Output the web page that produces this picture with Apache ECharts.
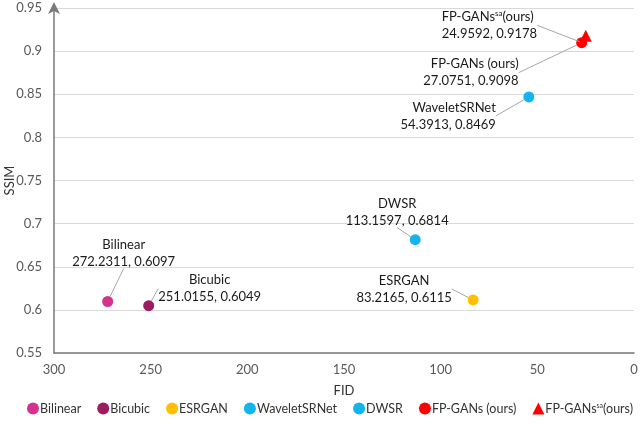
<!DOCTYPE html>
<html>
<head>
<meta charset="utf-8">
<script src="https://cdn.jsdelivr.net/npm/echarts@6/dist/echarts.min.js"></script>
<style>
  html, body { margin: 0; padding: 0; background: #fff; }
  #main { width: 640px; height: 427px; }
</style>
</head>
<body>
<div id="main"></div>
<script>
// data
var methods = ["Bilinear", "Bicubic", "ESRGAN", "WaveletSRNet", "DWSR", "FP-GANs (ours)", "FP-GANs sa (ours)"];
var fidValues = [272.2311, 251.0155, 83.2165, 54.3913, 113.1597, 27.0751, 24.9592];
var ssimValues = [0.6097, 0.6049, 0.6115, 0.8469, 0.6814, 0.9098, 0.9178];
var xTicks = [0, 50, 100, 150, 200, 250, 300];
var yTicks = [0.55, 0.6, 0.65, 0.7, 0.75, 0.8, 0.85, 0.9, 0.95];

// styling
var colors = ["#d5318f", "#9c1c5f", "#ffc000", "#12b5ee", "#12b5ee", "#ff0000", "#ff0000"];
var symbols = ["circle", "circle", "circle", "circle", "circle", "circle", "triangle"];
// label offset from the point (dx, dy) and text alignment
var labelMove = [
  [16, -48, "center"],
  [61, -17, "center"],
  [-69, -11, "center"],
  [-33, 19, "right"],
  [-18, -27, "center"],
  [-63, 30, "right"],
  [-144, -10, "left"]
];

function labelText(i) {
  var v = fidValues[i].toFixed(4) + ", " + ssimValues[i].toFixed(4);
  if (i === 6) return "{a|FP-GANs}{s|sa}{a|(ours)}\n{a|" + v + "}";
  return "{a|" + methods[i] + "}\n{a|" + v + "}";
}

var rich = {
  a: { fontSize: 13, lineHeight: 17, color: "#1a1a1a", fontFamily: "Lato" },
  s: { fontSize: 8, lineHeight: 17, color: "#1a1a1a", fontFamily: "Lato", padding: [0, 0, 7, 0] }
};

var series = methods.map(function (name, i) {
  return {
    name: name,
    type: "scatter",
    symbol: symbols[i],
    symbolSize: i === 6 ? 12 : 11,
    itemStyle: { color: colors[i], opacity: 1 },
    data: [[fidValues[i], ssimValues[i]]],
    label: {
      show: true,
      position: "inside",
      formatter: function () { return labelText(i); },
      align: labelMove[i][2],
      rich: rich
    },
    labelLayout: { dx: labelMove[i][0], dy: labelMove[i][1] },
    labelLine: { show: true, lineStyle: { color: "#a6a6a6", width: 1 } },
    z: i === 6 ? 3 : 2
  };
});

var chart = echarts.init(document.getElementById("main"));
chart.setOption({
  animation: false,
  textStyle: { fontFamily: "Lato" },
  grid: { left: 54, right: 6, top: 8, bottom: 74, outerBoundsMode: "none", containLabel: false },
  legend: {
    bottom: 7,
    left: 22,
    itemWidth: 12,
    itemHeight: 12,
    itemGap: 16,
    data: methods.map(function (m, i) { return { name: m, icon: symbols[i] }; }),
    formatter: function (name) {
      if (name === "FP-GANs sa (ours)") return "{a|FP-GANs}{s|sa}{a|(ours)}";
      return "{a|" + name + "}";
    },
    textStyle: {
      padding: [0, 0, 0, -4],
      rich: {
        a: { fontSize: 12.5, color: "#333", fontFamily: "Lato" },
        s: { fontSize: 7, color: "#333", fontFamily: "Lato", padding: [0, 0, 6, 0] }
      }
    }
  },
  xAxis: {
    type: "value",
    inverse: true,
    min: xTicks[0],
    max: xTicks[xTicks.length - 1],
    interval: 50,
    name: "FID",
    nameLocation: "middle",
    nameGap: 31,
    nameMoveOverlap: false,
    nameTextStyle: { fontSize: 13, color: "#333" },
    axisLine: { onZero: false, lineStyle: { color: "#7a7a7a", width: 1.5 } },
    axisTick: { show: false },
    axisLabel: { fontSize: 13, color: "#595959", margin: 10 },
    splitLine: { show: false }
  },
  yAxis: {
    type: "value",
    min: yTicks[0],
    max: yTicks[yTicks.length - 1],
    interval: 0.05,
    name: "SSIM",
    nameLocation: "middle",
    nameGap: 38,
    nameMoveOverlap: false,
    nameTextStyle: { fontSize: 13, color: "#333" },
    axisLine: {
      show: true,
      onZero: false,
      symbol: ["none", "arrow"],
      symbolSize: [9, 12],
      symbolOffset: [0, 6],
      lineStyle: { color: "#7a7a7a", width: 1.5 }
    },
    axisTick: { show: false },
    axisLabel: {
      fontSize: 13,
      color: "#595959",
      margin: 12,
      formatter: function (v) { return String(parseFloat(v.toFixed(2))); }
    },
    splitLine: { lineStyle: { color: "#d9d9d9", width: 1 } }
  },
  series: series
});
</script>
</body>
</html>
